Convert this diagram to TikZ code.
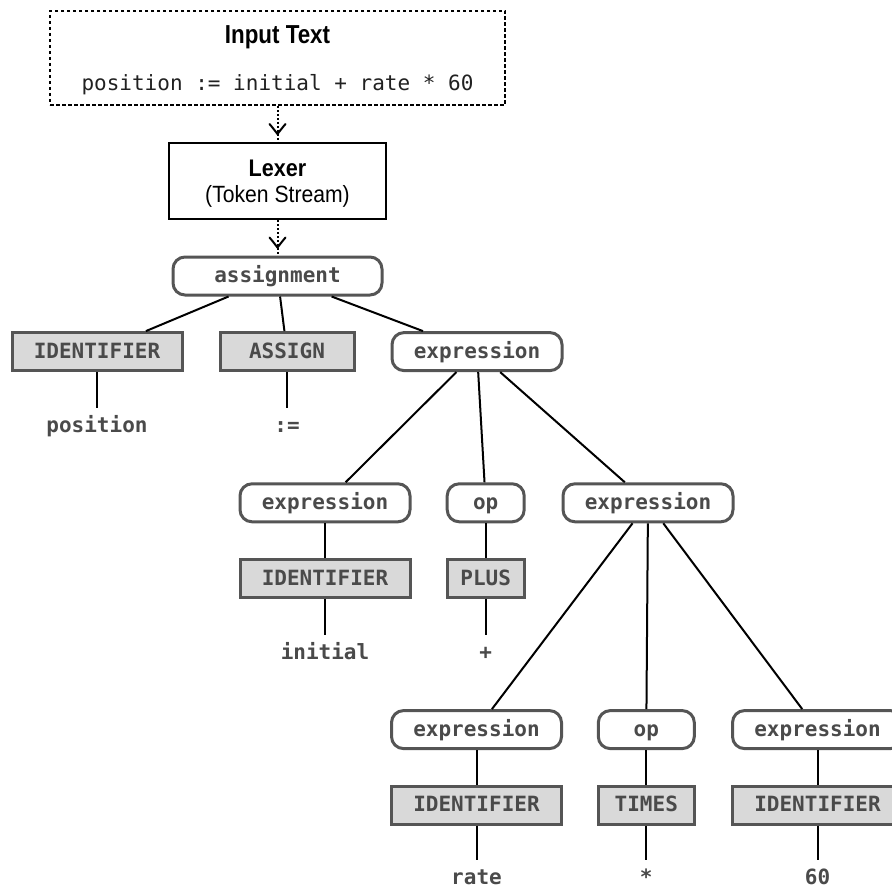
\documentclass[tikz,border=0pt]{standalone}
\usepackage{fontspec}
\setmonofont{DejaVu Sans Mono}
\newfontfamily\headfont[FakeStretch=0.9]{Liberation Sans}
\newfontfamily\titlefont[FakeStretch=0.86]{Liberation Sans}
\usetikzlibrary{arrows.meta,decorations.markings}

\definecolor{boxline}{HTML}{555555}
\definecolor{boxtext}{HTML}{4A4A4A}
\definecolor{tokfill}{HTML}{D9D9D9}

\tikzset{
  lbl/.style={font=\ttfamily\bfseries\fontsize{21}{25}\selectfont, text=boxtext},
  rulebox/.style={lbl, draw=boxline, line width=3pt, rounded corners=12pt,
    minimum height=38pt, inner sep=0pt, text height=13.4pt, text depth=0pt},
  tokenbox/.style={rulebox, rounded corners=0pt, fill=tokfill},
  leaf/.style={lbl, inner sep=0pt, text height=24pt, text depth=0pt, anchor=base},
  branch/.style={line width=2pt, black},
  % dotted stage link with an open forked head a little before its end
  flow/.style={line width=2pt, dash pattern=on 2pt off 2pt,
    postaction={decorate},
    decoration={markings,
      mark=at position -8pt with {
        \draw[solid, line width=2pt, line cap=round]
          (-10pt,8pt) .. controls (-6pt,4.5pt) and (-2.5pt,2pt) .. (0pt,0pt)
          .. controls (-2.5pt,-2pt) and (-6pt,-4.5pt) .. (-10pt,-8pt);}}},
  headline/.style={font=\headfont\bfseries\fontsize{25}{30}\selectfont, inner sep=0pt, anchor=base},
}

\begin{document}
\begin{tikzpicture}[x=1pt,y=-1pt]
\useasboundingbox (0,0) rectangle (892,888);

% source text
\node[draw, line width=2pt, dash pattern=on 3.5pt off 2.5pt,
      minimum width=455pt, minimum height=94pt, inner sep=0pt] (input) at (277.5,58) {};
\node[headline, font=\titlefont\bfseries\fontsize{26}{30}\selectfont] (inputtitle) at (277.5,44) {Input Text};
\node[font=\ttfamily\fontsize{21}{25}\selectfont, inner sep=0pt, anchor=base, text=black!87]
  (inputcode) at (277.5,90.7) {position := initial + rate * 60};

% lexer stage
\node[draw, line width=2pt, minimum width=217pt, minimum height=76pt, inner sep=0pt] (lexer) at (277.5,181) {};
\node[headline, font=\headfont\bfseries\fontsize{24}{28}\selectfont] (lexertitle) at (277.5,176) {Lexer};
\node[font=\headfont\fontsize{23.5}{28}\selectfont, inner sep=0pt, anchor=base] (lexersub) at (277.5,203) {(Token Stream)};

\draw[flow] (input) -- (lexer);

% parse tree
\node[rulebox, minimum width=209pt] (assignment) at (277.5,276) {assignment};
\draw[flow] (lexer) -- (assignment);

\node[tokenbox, minimum width=170pt] (id1) at (97,351.6) {IDENTIFIER};
\node[tokenbox, minimum width=134pt] (assign) at (287,351.6) {ASSIGN};
\node[rulebox, minimum width=170pt] (expr2) at (477,351.6) {expression};
\node[leaf] (lposition) at (97,432.3) {position};
\node[leaf] (lassign) at (287,432.3) {:=};

\node[rulebox, minimum width=170pt] (expr3a) at (325,502.8) {expression};
\node[rulebox, minimum width=77pt] (op3) at (485.7,502.8) {op};
\node[rulebox, minimum width=170pt] (expr3c) at (648,502.8) {expression};
\node[tokenbox, minimum width=170pt] (id2) at (325,578.4) {IDENTIFIER};
\node[tokenbox, minimum width=77pt] (plus) at (485.7,578.4) {PLUS};
\node[leaf] (linitial) at (325,659.1) {initial};
\node[leaf] (lplus) at (485.7,659.1) {+};

\node[rulebox, minimum width=170pt] (expr4a) at (476.5,729.6) {expression};
\node[rulebox, minimum width=96pt] (op4) at (646.3,729.6) {op};
\node[rulebox, minimum width=170pt] (expr4c) at (817.5,729.6) {expression};
\node[tokenbox, minimum width=170pt] (id3) at (476.5,805.2) {IDENTIFIER};
\node[tokenbox, minimum width=96pt] (times) at (646.3,805.2) {TIMES};
\node[tokenbox, minimum width=170pt] (id4) at (817.5,805.2) {IDENTIFIER};
\node[leaf] (lrate) at (476.5,884.5) {rate};
\node[leaf] (ltimes) at (646.3,884.5) {*};
\node[leaf] (lsixty) at (817.5,884.5) {60};

\draw[branch] (assignment) -- (id1);
\draw[branch] (assignment) -- (assign);
\draw[branch] (assignment) -- (expr2);
\draw[branch] (id1) -- (lposition);
\draw[branch] (assign) -- (lassign);

\draw[branch] (expr2) -- (expr3a);
\draw[branch] (expr2) -- (op3);
\draw[branch] (expr2) -- (expr3c);
\draw[branch] (expr3a) -- (id2);
\draw[branch] (op3) -- (plus);
\draw[branch] (id2) -- (linitial);
\draw[branch] (plus) -- (lplus);

\draw[branch] (expr3c) -- (expr4a);
\draw[branch] (expr3c) -- (op4);
\draw[branch] (expr3c) -- (expr4c);
\draw[branch] (expr4a) -- (id3);
\draw[branch] (op4) -- (times);
\draw[branch] (expr4c) -- (id4);
\draw[branch] (id3) -- (lrate);
\draw[branch] (times) -- (ltimes);
\draw[branch] (id4) -- (lsixty);
\end{tikzpicture}
\end{document}
